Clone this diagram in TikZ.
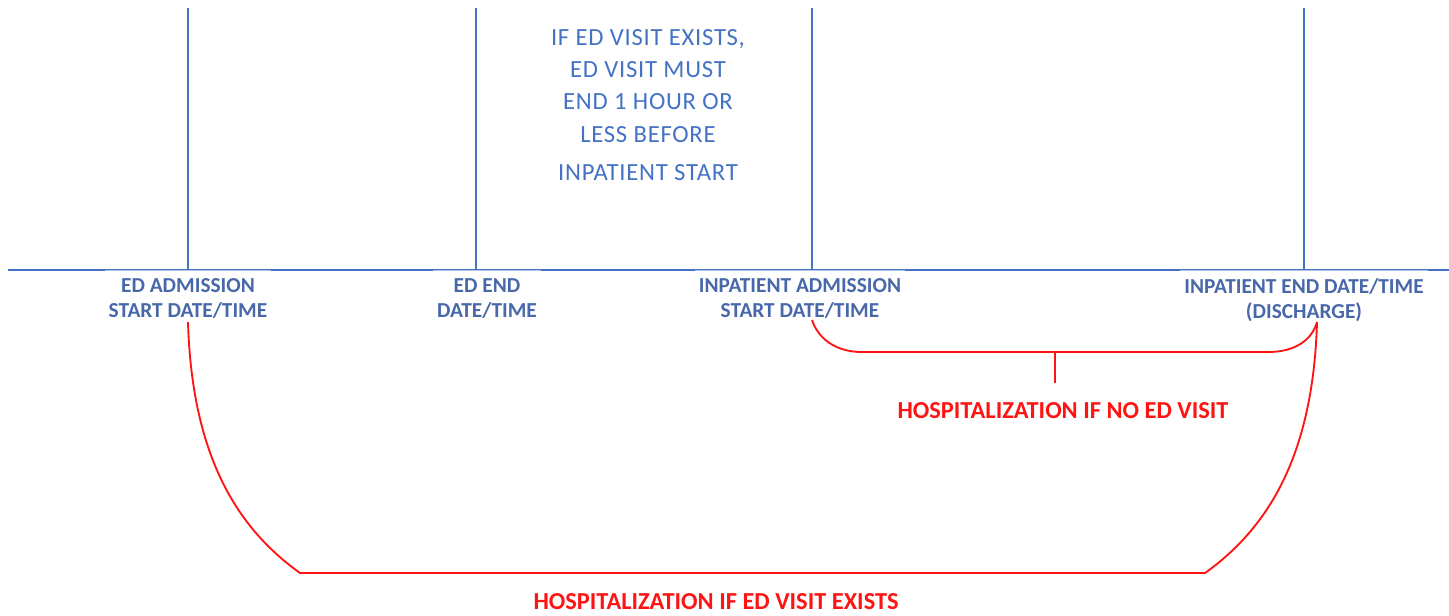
\documentclass[tikz,border=0pt]{standalone}
\usepackage{fontspec}
\setmainfont{Carlito}
\usepackage{xcolor}
\definecolor{lineblue}{RGB}{68,114,196}
\definecolor{labelblue}{RGB}{72,104,170}
\definecolor{hospred}{RGB}{255,20,20}

\begin{document}
\begin{tikzpicture}[x=0.75pt,y=0.75pt,yscale=-1,xscale=1,
  tick/.style={draw=lineblue,line width=1.5pt},
  datelabel/.style={anchor=north,align=center,inner xsep=3pt,inner ysep=6pt,fill=white,fill opacity=0.6,text opacity=1,text=labelblue,font=\fontsize{16}{18.75}\selectfont\bfseries},
  hosp/.style={draw=hospred,line width=1.4pt},
  hosplabel/.style={text=hospred,inner sep=0.75pt,font=\fontsize{18.3}{22}\selectfont\bfseries}]
\useasboundingbox (0,0) rectangle (1449,615);
% timeline
\coordinate (axl) at (8,270);
\coordinate (axr) at (1449,270);
\draw [tick]  (axl) -- (axr) ;
% event ticks
\coordinate (edadm) at (188,270);   \coordinate (edadmtop) at (188,8);
\coordinate (edend) at (476,270);   \coordinate (edendtop) at (476,8);
\coordinate (ipadm) at (812,270);   \coordinate (ipadmtop) at (812,8);
\coordinate (ipend) at (1304,270);  \coordinate (ipendtop) at (1304,8);
\draw [tick]  (edadmtop) -- (edadm) ;
\draw [tick]  (edendtop) -- (edend) ;
\draw [tick]  (ipadmtop) -- (ipadm) ;
\draw [tick]  (ipendtop) -- (ipend) ;
\node (lbedadm) [datelabel] at (188,270) {ED ADMISSION\\START DATE/TIME};
\node (lbedend) [datelabel] at (487,270) {ED END\\DATE/TIME};
\node (lbipadm) [datelabel] at (800,270) {INPATIENT ADMISSION\\START DATE/TIME};
\node (lbipend) [datelabel] at (1304,270) {INPATIENT END DATE/TIME\\(DISCHARGE)};
% note
\node (note) [anchor=north,align=center,text=lineblue,inner sep=0.75pt,font=\fontsize{18.5}{24.2}\selectfont\addfontfeature{LetterSpace=3}] at (648,28) {IF ED VISIT EXISTS,\\ED VISIT MUST\\END 1 HOUR OR\\LESS BEFORE\\[4.7pt]INPATIENT START};
% brackets
\coordinate (dischfoot) at (1317,322);
\coordinate (nomid) at (1055,352);
\draw [hosp]  (ipadm |- 0,320) .. controls (818,338) and (835,352) .. (862,352) -- (1268,352) .. controls (1295,352) and (1312,340) .. (dischfoot) ;
\draw [hosp]  (nomid) -- ++(0,31) ;
\draw [hosp]  (edadm |- 0,322) .. controls (192,460) and (240,530) .. (300,573) -- (1205,573) .. controls (1265,530) and (1313,460) .. (dischfoot) ;
\node (hospno) [hosplabel] at (1063,411) {HOSPITALIZATION IF NO ED VISIT};
\node (hospyes) [hosplabel] at (716,602) {HOSPITALIZATION IF ED VISIT EXISTS};
\end{tikzpicture}
\end{document}
